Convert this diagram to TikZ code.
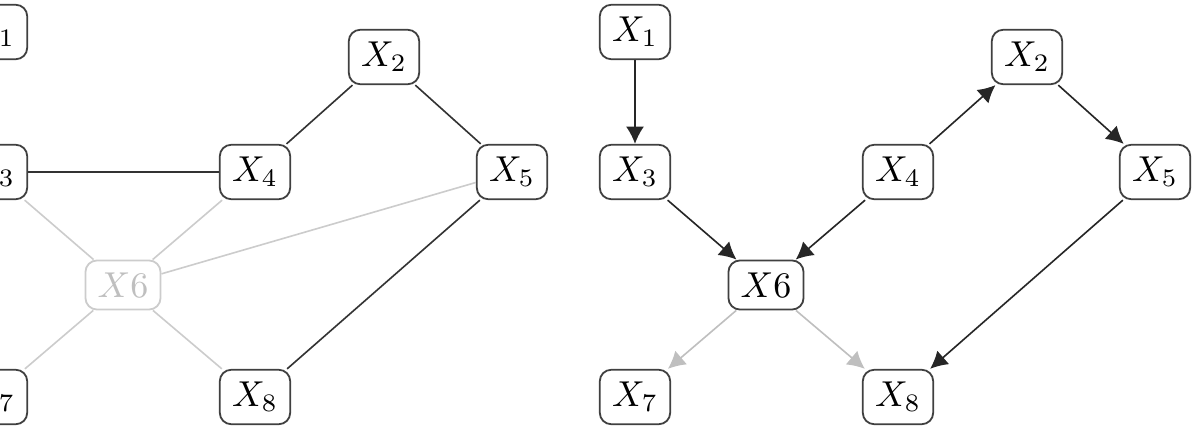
\documentclass[tikz,border=0pt]{standalone}
\usetikzlibrary{arrows.meta}
\begin{document}
\begin{tikzpicture}[x=0.2778pt,y=-0.2778pt,
  var/.style={draw=black!75,line width=0.5pt,rounded corners=3.2pt,inner sep=3.4pt,fill=white},
  ghost/.style={var,draw=black!20,text=black!25},
  dark/.style={draw=black!80,line width=0.45pt},
  light/.style={draw=black!20,line width=0.45pt},
  darrow/.style={draw=black!85,line width=0.45pt,-{Latex[length=4.8pt,width=5pt]}},
  larrow/.style={draw=black!25,line width=0.45pt,-{Latex[length=4.8pt,width=5pt]}}]
\useasboundingbox (0,0) rectangle (1194,426);
\clip (0,0) rectangle (1194,426);
% left graph
\node[var] (a1) at (-8,32) {$X_1$};
\node[var] (a3) at (-8,172) {$X_3$};
\node[var] (a7) at (-8,397) {$X_7$};
\node[var] (a4) at (255,172) {$X_4$};
\node[var] (a8) at (255,397) {$X_8$};
\node[var] (a2) at (384,57) {$X_2$};
\node[var] (a5) at (512,172) {$X_5$};
\node[ghost] (a6) at (123,285) {$X6$};
\draw[light] (a3) -- (a6);
\draw[light] (a4) -- (a6);
\draw[light] (a5) -- (a6);
\draw[light] (a6) -- (a7);
\draw[light] (a6) -- (a8);
\draw[dark] (a3) -- (a4);
\draw[dark] (a4) -- (a2);
\draw[dark] (a2) -- (a5);
\draw[dark] (a5) -- (a8);
% right graph
\node[var] (b1) at (635,32) {$X_1$};
\node[var] (b3) at (635,172) {$X_3$};
\node[var] (b7) at (635,397) {$X_7$};
\node[var] (b4) at (898,172) {$X_4$};
\node[var] (b8) at (898,397) {$X_8$};
\node[var] (b2) at (1027,57) {$X_2$};
\node[var] (b5) at (1155,172) {$X_5$};
\node[var] (b6) at (766,285) {$X6$};
\draw[darrow] (b1) -- (b3);
\draw[darrow] (b3) -- (b6);
\draw[darrow] (b4) -- (b6);
\draw[darrow] (b4) -- (b2);
\draw[darrow] (b2) -- (b5);
\draw[darrow] (b5) -- (b8);
\draw[larrow] (b6) -- (b7);
\draw[larrow] (b6) -- (b8);
\end{tikzpicture}
\end{document}
